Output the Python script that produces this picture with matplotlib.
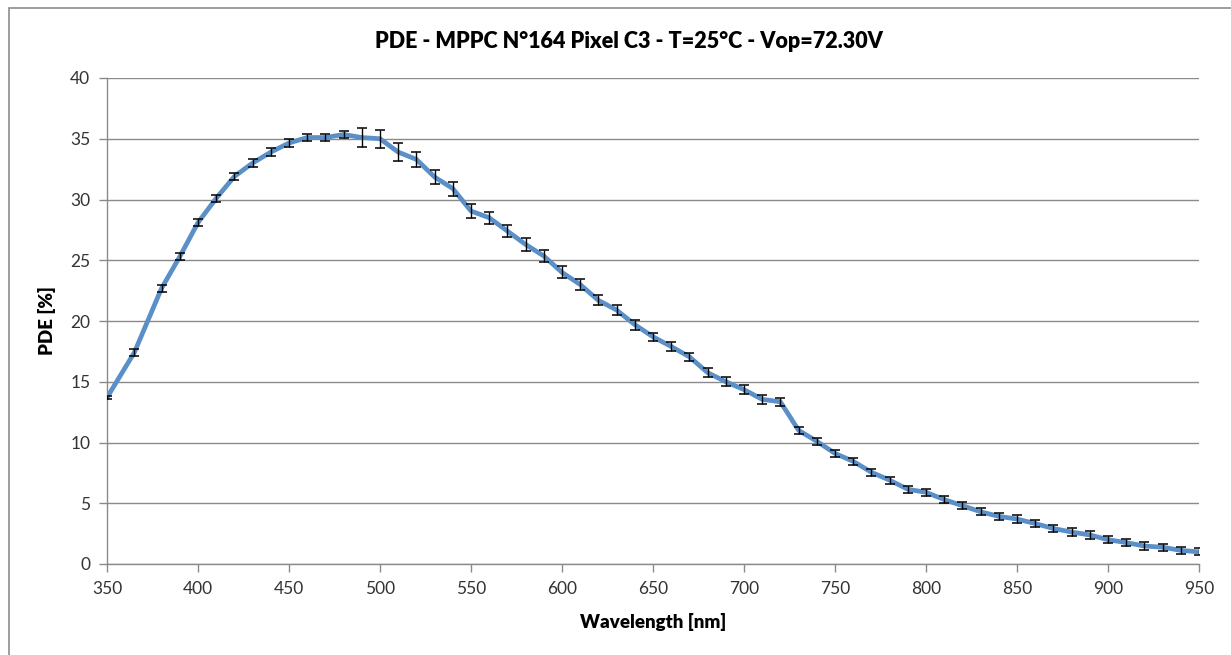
import matplotlib
matplotlib.use("Agg")
import matplotlib.pyplot as plt
from matplotlib.patches import Rectangle

# wavelength [nm], PDE [%], error [%]
wavelength = [350, 365, 380, 390, 400, 410, 420, 430, 440, 450,
              460, 470, 480, 490, 500, 510, 520, 530, 540, 550,
              560, 570, 580, 590, 600, 610, 620, 630, 640, 650,
              660, 670, 680, 690, 700, 710, 720, 730, 740, 750,
              760, 770, 780, 790, 800, 810, 820, 830, 840, 850,
              860, 870, 880, 890, 900, 910, 920, 930, 940, 950]
pde = [13.7, 17.4, 22.7, 25.3, 28.1, 30.1, 31.9, 33.0, 33.9, 34.65,
       35.1, 35.1, 35.35, 35.1, 35.0, 33.9, 33.3, 31.85, 30.9, 29.05,
       28.5, 27.4, 26.3, 25.35, 24.0, 23.0, 21.7, 20.9, 19.7, 18.7,
       17.9, 17.05, 15.75, 15.0, 14.35, 13.55, 13.35, 11.0, 10.1, 9.1,
       8.45, 7.55, 6.9, 6.15, 5.9, 5.3, 4.8, 4.3, 3.92, 3.7,
       3.33, 2.92, 2.63, 2.39, 2.0, 1.76, 1.48, 1.38, 1.12, 1.0]
err = [0.15, 0.3, 0.3, 0.3, 0.3, 0.3, 0.3, 0.3, 0.3, 0.3,
       0.3, 0.3, 0.3, 0.8, 0.75, 0.75, 0.6, 0.6, 0.58, 0.58,
       0.5, 0.5, 0.5, 0.5, 0.5, 0.45, 0.4, 0.4, 0.4, 0.35,
       0.35, 0.35, 0.35, 0.35, 0.35, 0.35, 0.35, 0.3, 0.3, 0.3,
       0.3, 0.3, 0.3, 0.3, 0.3, 0.3, 0.3, 0.3, 0.3, 0.3,
       0.3, 0.3, 0.3, 0.3, 0.3, 0.3, 0.3, 0.3, 0.3, 0.3]

xticks = list(range(350, 951, 50))
yticks = list(range(0, 41, 5))

plt.rcParams['font.family'] = ['Lato', 'DejaVu Sans']

fig = plt.figure(figsize=(12.31, 6.55), dpi=100)
fig.patches.append(Rectangle((9 / 1231, -0.1), 1.2, 0.1 + (655 - 8) / 655,
                             transform=fig.transFigure, fill=False,
                             edgecolor='#8c8c8c', lw=1.2))
ax = fig.add_axes([107 / 1231, 91 / 655, 1092 / 1231, 486 / 655])

ax.plot(wavelength, pde, color='#5b8fc7', lw=3.4, zorder=2, solid_joinstyle='round')
ax.errorbar(wavelength, pde, yerr=err, fmt='none', ecolor='black',
            elinewidth=1.0, capsize=3.5, capthick=1.1, zorder=3)

ax.set_xlim(350, 950)
ax.set_ylim(0, 40)
ax.set_xticks(xticks)
ax.set_yticks(yticks)
ax.yaxis.grid(True, color='#8a8a8a', lw=1.0)
ax.set_axisbelow(True)

for s in ['top', 'right']:
    ax.spines[s].set_visible(False)
for s in ['left', 'bottom']:
    ax.spines[s].set_color('#8a8a8a')
    ax.spines[s].set_linewidth(1.0)

ax.tick_params(axis='both', colors='#8a8a8a', labelcolor='#333333',
               labelsize=12.5, length=6, width=1.0, direction='out')
ax.tick_params(axis='x', pad=6)
ax.tick_params(axis='y', pad=6)

fig.text(629 / 1231, 1 - 42 / 655, "PDE - MPPC N°164 Pixel C3 - T=25°C - Vop=72.30V",
         fontsize=15.5, fontweight='heavy', ha='center', va='center')
ax.set_xlabel("Wavelength [nm]", fontsize=13.5, fontweight='heavy', labelpad=12)
ax.set_ylabel("PDE [%]", fontsize=13.5, fontweight='heavy', labelpad=10)

fig.savefig('out.png', dpi=100)
